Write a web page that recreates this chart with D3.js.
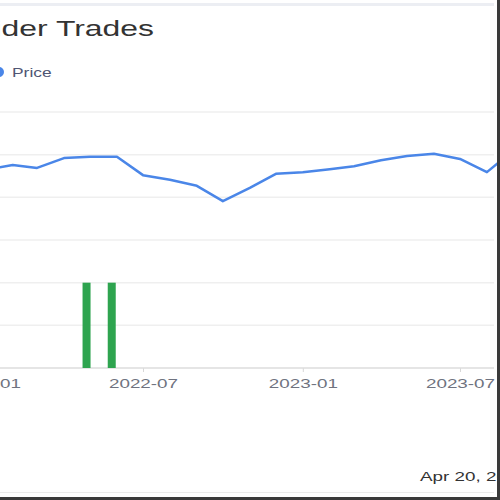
<!DOCTYPE html>
<html>
<head>
<meta charset="utf-8">
<script src="https://cdn.jsdelivr.net/npm/d3@7"></script>
<style>
  body { margin: 0; background: #fff; }
  svg { display: block; font-family: "Liberation Sans", Arial, sans-serif; }
</style>
</head>
<body>
<svg id="chart" width="500" height="500"></svg>
<script>
// monthly closing price
var months = ["2022-01", "2022-02", "2022-03", "2022-04", "2022-05", "2022-06", "2022-07",
    "2022-08", "2022-09", "2022-10", "2022-11", "2022-12", "2023-01", "2023-02", "2023-03",
    "2023-04", "2023-05", "2023-06", "2023-07", "2023-08", "2023-09"];
var prices = [46.4, 47.6, 46.9, 49.2, 49.5, 49.5, 45.2, 44.1, 42.7, 39.1, 42.2, 45.5,
    45.9, 46.6, 47.3, 48.7, 49.7, 50.2, 49.0, 45.9, 51.1];

// insider buys
var tradeDates = ["2022-04-27", "2022-05-26"];
var tradeShares = [20000, 20000];

var tickLabels = ["2022-01", "2022-07", "2023-01", "2023-07"];
var priceTicks = [0, 10, 20, 30, 40, 50, 60];

var titleText = "Insider Trades";
var legendText = "Price";
var dateText = "Apr 20, 2024";

var SX = 1.45; // the picture is stretched sideways

var svg = d3.select("#chart");
var parseMonth = d3.utcParse("%Y-%m");
var parseDay = d3.utcParse("%Y-%m-%d");

var x = d3.scaleUtc()
    .domain([parseMonth("2022-07"), parseMonth("2023-07")])
    .range([143, 460]);

var y = d3.scaleLinear().domain([0, 60]).range([368, 112]);
var yShares = d3.scaleLinear().domain([0, 60000]).range([368, 112]);

// frame bits
svg.append("rect").attr("x", 0).attr("y", 3).attr("width", 494).attr("height", 3).attr("fill", "#eceef3");
svg.append("line").attr("x1", 0).attr("x2", 494).attr("y1", 492.5).attr("y2", 492.5)
    .attr("stroke", "#ebebeb");

// title + legend
svg.append("text")
    .attr("transform", "translate(154,36) scale(" + SX + ",1)")
    .attr("text-anchor", "end")
    .attr("font-size", 22)
    .attr("fill", "#333")
    .text(titleText);

svg.append("circle").attr("cx", -1).attr("cy", 72).attr("r", 5).attr("fill", "#4a86e8");
svg.append("text")
    .attr("transform", "translate(12,77) scale(" + SX + ",1)")
    .attr("font-size", 12)
    .attr("fill", "#505673")
    .text(legendText);

// grid
svg.append("g")
    .selectAll("line")
    .data(priceTicks.slice(1))
    .join("line")
    .attr("x1", 0)
    .attr("x2", 494)
    .attr("y1", d => y(d))
    .attr("y2", d => y(d))
    .attr("stroke", "#efefef")
    .attr("stroke-width", 1.5);

// x axis
var xAxis = svg.append("g")
    .attr("transform", "translate(0," + y(0) + ")")
    .call(d3.axisBottom(x)
        .tickValues(tickLabels.map(parseMonth))
        .tickFormat(d3.utcFormat("%Y-%m"))
        .tickSize(4)
        .tickPadding(7));
xAxis.select(".domain").remove();
xAxis.selectAll(".tick line").attr("stroke", "#d8d8d8");
xAxis.selectAll(".tick text")
    .attr("font-size", 13)
    .attr("font-family", "Liberation Sans, Arial, sans-serif")
    .attr("fill", "#6f7380")
    .attr("transform", "scale(" + SX + ",1)");
svg.append("line").attr("x1", 0).attr("x2", 494).attr("y1", y(0)).attr("y2", y(0))
    .attr("stroke", "#dcdcdc").attr("stroke-width", 1.5);

// trade bars
svg.append("g")
    .selectAll("rect")
    .data(tradeDates)
    .join("rect")
    .attr("x", d => x(parseDay(d)) - 4)
    .attr("width", 8)
    .attr("y", (d, i) => yShares(tradeShares[i]))
    .attr("height", (d, i) => yShares(0) - yShares(tradeShares[i]))
    .attr("fill", "#2ea44f");

// price line
var line = d3.line()
    .x(d => x(parseMonth(d)))
    .y((d, i) => y(prices[i]));

svg.append("path")
    .datum(months)
    .attr("fill", "none")
    .attr("stroke", "#4a86e8")
    .attr("stroke-width", 2.5)
    .attr("stroke-linejoin", "round")
    .attr("d", line);

// date stamp
svg.append("text")
    .attr("transform", "translate(420,481) scale(" + SX + ",1)")
    .attr("font-size", 13)
    .attr("fill", "#333")
    .text(dateText);

// dark edge on right and bottom
svg.append("rect").attr("x", 497).attr("y", 0).attr("width", 3).attr("height", 500).attr("fill", "#3a3a3a");
svg.append("rect").attr("x", 0).attr("y", 497).attr("width", 500).attr("height", 3).attr("fill", "#3a3a3a");
</script>
</body>
</html>
